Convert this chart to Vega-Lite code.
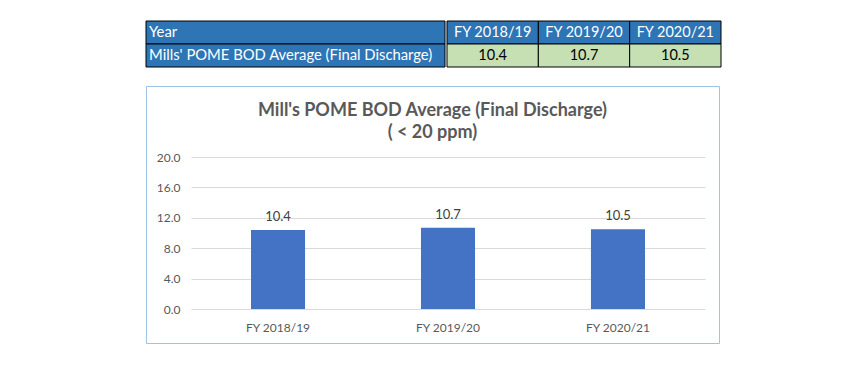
{
  "$schema": "https://vega.github.io/schema/vega-lite/v6.json",
  "padding": {"left": 145, "top": 20, "right": 0, "bottom": 0},
  "background": "white",
  "datasets": {
    "bod": [
      {"fy": "FY 2018/19", "value": 10.4},
      {"fy": "FY 2019/20", "value": 10.7},
      {"fy": "FY 2020/21", "value": 10.5}
    ],
    "rowlabels": [
      {"label": "Year"},
      {"label": "Mills' POME BOD Average (Final Discharge)"}
    ]
  },
  "config": {"font": "Lato", "view": {"stroke": null}},
  "spacing": 17,
  "vconcat": [
    {
      "spacing": 0,
      "hconcat": [
        {
          "width": 299,
          "height": 46,
          "data": {"name": "rowlabels"},
          "encoding": {
            "y": {"field": "label", "type": "nominal", "sort": null, "axis": null, "scale": {"paddingInner": 0, "paddingOuter": 0}}
          },
          "layer": [
            {"mark": {"type": "rect", "fill": "#2E75B6", "stroke": "#000000", "strokeWidth": 1}},
            {
              "mark": {"type": "text", "align": "left", "dx": 3, "color": "white", "fontSize": 14.8},
              "encoding": {
                "x": {"datum": 0, "type": "quantitative", "scale": {"domain": [0, 1]}, "axis": null},
                "text": {"field": "label"}
              }
            }
          ]
        },
        {
          "width": 274,
          "height": 46,
          "data": {"name": "bod"},
          "encoding": {
            "x": {"field": "fy", "type": "nominal", "sort": null, "axis": null, "scale": {"paddingInner": 0, "paddingOuter": 0}}
          },
          "layer": [
            {
              "mark": {"type": "rect", "fill": "#2E75B6", "stroke": "#000000", "strokeWidth": 1},
              "encoding": {"y": {"datum": "Year", "type": "nominal", "axis": null, "scale": {"domain": ["Year", "Value"], "paddingInner": 0, "paddingOuter": 0}}}
            },
            {
              "mark": {"type": "rect", "fill": "#C6E0B4", "stroke": "#000000", "strokeWidth": 1},
              "encoding": {"y": {"datum": "Value", "type": "nominal"}}
            },
            {
              "mark": {"type": "text", "color": "white", "fontSize": 14.5},
              "encoding": {"y": {"datum": "Year", "type": "nominal"}, "text": {"field": "fy"}}
            },
            {
              "mark": {"type": "text", "color": "#000000", "fontSize": 14.5},
              "encoding": {"y": {"datum": "Value", "type": "nominal"}, "text": {"field": "value", "format": ".1f"}}
            }
          ]
        }
      ]
    },
    {
      "width": 573,
      "height": 257,
      "data": {"name": "bod"},
      "view": {"stroke": "#9DC3E6", "strokeWidth": 1},
      "title": {
        "text": ["Mill's POME BOD Average (Final Discharge)", "( < 20 ppm)"],
        "fontSize": 18,
        "fontWeight": "bold",
        "color": "#595959",
        "anchor": "middle",
        "frame": "group",
        "offset": -56,
        "lineHeight": 22
      },
      "encoding": {
        "x": {
          "field": "fy", "type": "nominal", "sort": null, "title": null,
          "scale": {"range": [45, 559], "paddingInner": 0.682, "paddingOuter": 0.353},
          "axis": {"orient": "bottom", "offset": -34, "labelAngle": 0, "domain": false, "ticks": false, "labelPadding": 13, "labelColor": "#595959", "labelFontSize": 12}
        },
        "y": {
          "field": "value", "type": "quantitative", "title": null,
          "scale": {"domain": [0, 20], "range": [223, 71], "nice": false},
          "axis": {"values": [0, 4, 8, 12, 16, 20], "format": ".1f", "offset": -45, "domain": false, "ticks": false, "labelPadding": 11, "labelColor": "#595959", "labelFontSize": 12, "gridColor": "#D9D9D9"}
        }
      },
      "layer": [
        {"mark": {"type": "bar", "color": "#4472C4"}},
        {
          "mark": {"type": "text", "dy": -13, "color": "#404040", "fontSize": 13},
          "encoding": {"text": {"field": "value", "format": ".1f"}}
        }
      ]
    }
  ]
}
